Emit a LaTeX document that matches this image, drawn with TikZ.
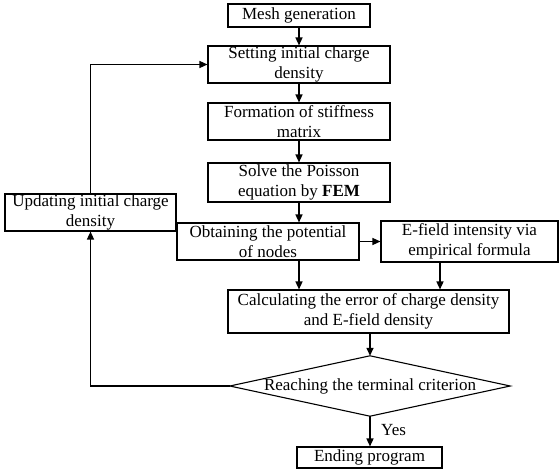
\documentclass[tikz,border=0pt]{standalone}
\usepackage{fontspec}
\setmainfont{Liberation Serif}
\usetikzlibrary{arrows.meta}
\begin{document}
\begin{tikzpicture}[x=1pt,y=-1pt,
  txt/.style={font=\fontsize{17}{19.5}\selectfont},
  box/.style={txt, draw, line width=1.1pt, inner sep=0pt, align=center},
  arr/.style={line width=1.4pt, -{Triangle[length=8pt,width=7pt]}}
]
\useasboundingbox (0,0) rectangle (559,473);
\node[box, minimum width=142, minimum height=23] (mesh) at (299,15.5) {Mesh generation};
\node[box, minimum width=182, minimum height=37] (set) at (299,64.5) {Setting initial charge\\density};
\node[box, minimum width=182, minimum height=37] (form) at (299,121.5) {Formation of stiffness\\matrix};
\node[box, minimum width=182, minimum height=39] (solve) at (299,182.5) {Solve the Poisson\\equation by \textbf{FEM}};
\node[box, minimum width=171, minimum height=37] (upd) at (90.5,212.5) {Updating initial charge\\density};
\node[box, minimum width=182, minimum height=37] (obt) at (268,241.5) {Obtaining the potential\\of nodes};
\node[box, minimum width=177, minimum height=41] (efield) at (469.5,241.5) {E-field intensity via\\empirical formula};
\node[box, minimum width=281, minimum height=43] (calc) at (368.5,311.5) {Calculating the error of charge density\\and E-field density};
\node[txt, minimum width=280, minimum height=60, inner sep=0pt] (dia) at (370,386) {Reaching the terminal criterion};
\draw[line width=1.1pt] (dia.west) -- (dia.north) -- (dia.east) -- (dia.south) -- cycle;
\node[box, minimum width=145, minimum height=21] (end) at (369.5,457.5) {Ending program};
\node[txt, anchor=west, inner sep=0pt] (yes) at (381,430) {Yes};

\draw[arr] (mesh) -- (set);
\draw[arr] (set) -- (form);
\draw[arr] (form) -- (solve);
\draw[arr] (solve.south) -- (solve.south |- obt.north);
\draw[arr] (obt.south -| solve.south) -- (solve.south |- calc.north);
\draw[arr] (obt.east) -- (obt.east -| efield.west);
\draw[arr] ([xshift=-29.5pt]efield.south) -- ([xshift=-29.5pt]efield.south |- calc.north);
\draw[arr] (calc.south -| dia.north) -- (dia.north);
\draw[arr] (dia.south) -- (dia.south |- end.north);
\draw[arr] (dia.west) -| (upd.south);
\draw[arr] (upd.north) |- (set.west);
\end{tikzpicture}
\end{document}
